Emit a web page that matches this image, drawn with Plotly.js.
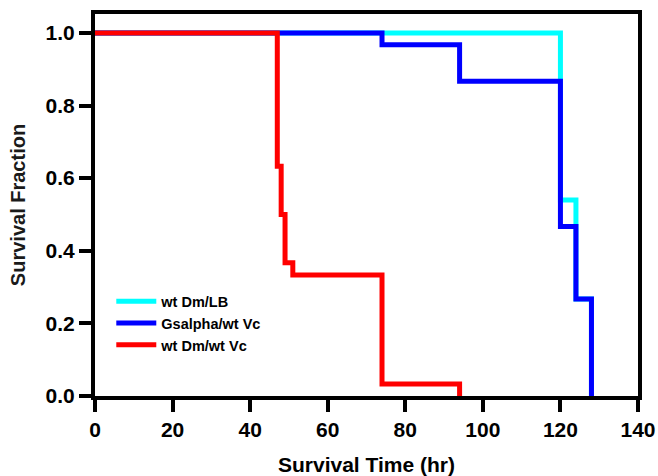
<!DOCTYPE html>
<html>
<head>
<meta charset="utf-8">
<script src="https://cdn.plot.ly/plotly-3.0.1.min.js"></script>
<style>
html,body{margin:0;padding:0;background:#fff;}
#chart{width:658px;height:476px;}
</style>
</head>
<body>
<div id="chart"></div>
<script>
// Series names
const seriesNames = ["wt Dm/LB", "Gsalpha/wt Vc", "wt Dm/wt Vc"];
// Survival times (hr) and survival fractions
const lbTime = [0, 120, 124, 128];
const lbSurv = [1.0, 0.54, 0.267, 0.0];
const gsTime = [0, 74, 94, 120, 124, 128];
const gsSurv = [1.0, 0.967, 0.867, 0.467, 0.267, 0.0];
const wtTime = [0, 47, 48, 49, 51, 74, 94];
const wtSurv = [1.0, 0.633, 0.5, 0.367, 0.333, 0.033, 0.0];
const xTicks = [0, 20, 40, 60, 80, 100, 120, 140];
const yTicks = [0, 0.2, 0.4, 0.6, 0.8, 1.0];
const yTickText = ["0.0", "0.2", "0.4", "0.6", "0.8", "1.0"];

const colors = ["#00FFFF", "#0000FF", "#FF0000"];
const font = "Liberation Sans, Arial, Helvetica, sans-serif";

function mk(x, y, i) {
  return {
    x: x, y: y, name: seriesNames[i], type: "scatter", mode: "lines",
    line: {shape: "hv", color: colors[i], width: 5},
    cliponaxis: false
  };
}

const data = [mk(lbTime, lbSurv, 0), mk(gsTime, gsSurv, 1), mk(wtTime, wtSurv, 2)];

const layout = {
  width: 658, height: 476,
  margin: {l: 95, r: 20, t: 14, b: 80, pad: 0},
  paper_bgcolor: "#fff", plot_bgcolor: "#fff",
  showlegend: true,
  legend: {
    x: 0.03, y: 0.29, xanchor: "left", yanchor: "top",
    font: {family: font, size: 14.5, color: "#000", weight: "bold"},
    itemwidth: 40,
    bgcolor: "rgba(0,0,0,0)", borderwidth: 0, tracegroupgap: 0
  },
  xaxis: {
    range: [0, 140], tickvals: xTicks, ticktext: xTicks.map(String),
    showgrid: false, zeroline: false,
    showline: true, linecolor: "#000", linewidth: 4, mirror: true,
    ticks: "outside", ticklen: 12, tickwidth: 4, tickcolor: "#000",
    tickfont: {family: font, size: 21, color: "#000", weight: "bold"},
    title: {text: "Survival Time (hr)", font: {family: font, size: 21, color: "#000", weight: "bold"}, standoff: 19}
  },
  yaxis: {
    range: [0, 1.052], tickvals: yTicks, ticktext: yTickText,
    showgrid: false, zeroline: false,
    showline: true, linecolor: "#000", linewidth: 4, mirror: true,
    ticks: "outside", ticklen: 12, tickwidth: 4, tickcolor: "#000",
    tickfont: {family: font, size: 21, color: "#000", weight: "bold"},
    title: {text: "Survival Fraction", font: {family: font, size: 20, color: "#1a1a1a", weight: "bold"}, standoff: 16}
  }
};

Plotly.newPlot("chart", data, layout, {displayModeBar: false, staticPlot: true});
</script>
</body>
</html>
